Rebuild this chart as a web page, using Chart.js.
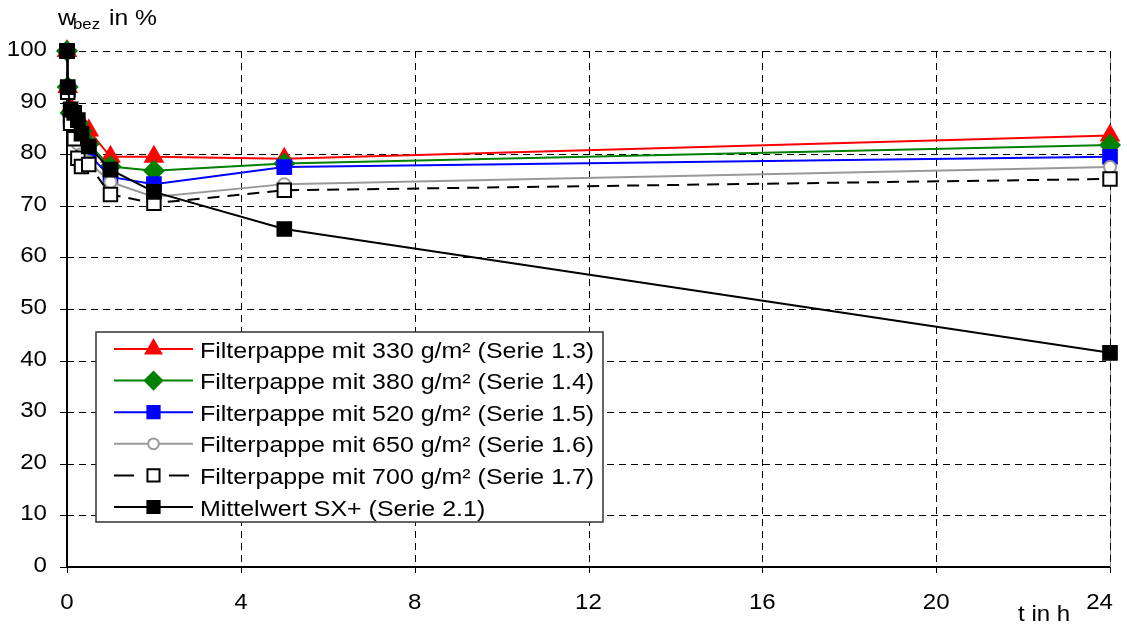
<!DOCTYPE html>
<html>
<head>
<meta charset="utf-8">
<script src="https://cdn.jsdelivr.net/npm/chart.js@4/dist/chart.umd.min.js"></script>
<style>
  html, body { margin: 0; padding: 0; background: #fff; }
  #wrap { width: 1127px; height: 625px; }
</style>
</head>
<body>
<div id="wrap"><canvas id="chart"></canvas></div>
<script>
// time in hours
const hours = [0, 0.017, 0.083, 0.167, 0.25, 0.333, 0.5, 1, 2, 5, 24];

// w_bez in % per series
const serie13 = [100, 93, 89, 88, 87, 86, 84.6, 79.5, 79.5, 79.1, 83.6];
const serie14 = [100, 93, 88, 87, 86, 84.5, 82, 77.6, 76.8, 78.2, 81.8];
const serie15 = [100, 92.5, 87, 86, 85, 83, 80, 75.6, 74.2, 77.5, 79.5];
const serie16 = [100, 92, 86, 84, 82, 80, 78.5, 74.6, 71.7, 74.2, 77.5];
const serie17 = [100, 92, 86, 83, 79.2, 77.6, 78, 72.2, 70.5, 73, 75.2];
const serie21 = [100, 93, 88.7, 88, 86.6, 84, 81.5, 77, 72.7, 65.5, 41.5];

const seriesNames = [
  'Filterpappe mit 330 g/m² (Serie 1.3)',
  'Filterpappe mit 380 g/m² (Serie 1.4)',
  'Filterpappe mit 520 g/m² (Serie 1.5)',
  'Filterpappe mit 650 g/m² (Serie 1.6)',
  'Filterpappe mit 700 g/m² (Serie 1.7)',
  'Mittelwert SX+ (Serie 2.1)',
];

const xTicks = [0, 4, 8, 12, 16, 20, 24];
const yTicks = [0, 10, 20, 30, 40, 50, 60, 70, 80, 90, 100];

const FONT = '"Liberation Sans", Arial, sans-serif';
const SX = 1.12; // the reference text is a bit wider than plain Arial

const toPoints = (values) => values.map((v, i) => ({ x: hours[i], y: v }));

const makeSeries = (label, values, style, order) => ({
  label,
  data: toPoints(values),
  order,
  clip: false,
  tension: 0,
  fill: false,
  borderWidth: 2,
  pointBorderWidth: 1.5,
  ...style,
});

const datasets = [
  makeSeries(seriesNames[0], serie13, {
    borderColor: '#ff0000', pointBackgroundColor: '#ff0000', pointBorderColor: '#ff0000',
    pointStyle: 'triangle', pointRadius: 10.5,
  }, 6),
  makeSeries(seriesNames[1], serie14, {
    borderColor: '#008000', pointBackgroundColor: '#008000', pointBorderColor: '#008000',
    pointStyle: 'rectRot', pointRadius: 10,
  }, 5),
  makeSeries(seriesNames[2], serie15, {
    borderColor: '#0000ff', pointBackgroundColor: '#0000ff', pointBorderColor: '#0000ff',
    pointStyle: 'rect', pointRadius: 10,
  }, 4),
  makeSeries(seriesNames[3], serie16, {
    borderColor: '#999999', pointBackgroundColor: '#ffffff', pointBorderColor: '#999999',
    pointStyle: 'circle', pointRadius: 6, pointBorderWidth: 2,
  }, 3),
  makeSeries(seriesNames[4], serie17, {
    borderColor: '#000000', pointBackgroundColor: '#ffffff', pointBorderColor: '#000000',
    pointStyle: 'rect', pointRadius: 9.5, pointBorderWidth: 2, borderDash: [12, 8],
  }, 2),
  makeSeries(seriesNames[5], serie21, {
    borderColor: '#000000', pointBackgroundColor: '#000000', pointBorderColor: '#000000',
    pointStyle: 'rect', pointRadius: 10,
  }, 1),
];

function stretchedText(ctx, text, x, y, align, size) {
  ctx.save();
  ctx.translate(x, y);
  ctx.scale(SX, 1);
  ctx.font = `${size}px ${FONT}`;
  ctx.textAlign = align;
  ctx.textBaseline = 'alphabetic';
  ctx.fillStyle = '#000';
  ctx.fillText(text, 0, 0);
  ctx.restore();
}

function hLine(ctx, x1, x2, y) {
  ctx.beginPath();
  ctx.moveTo(x1, y);
  ctx.lineTo(x2, y);
  ctx.stroke();
}

function vLine(ctx, x, y1, y2) {
  ctx.beginPath();
  ctx.moveTo(x, y1);
  ctx.lineTo(x, y2);
  ctx.stroke();
}

// excel style grid, axes and tick marks
const gridPlugin = {
  id: 'excelGrid',
  beforeDatasetsDraw(chart) {
    const { ctx, chartArea: a, scales: { x, y } } = chart;
    ctx.save();
    ctx.lineWidth = 1;
    ctx.strokeStyle = '#8c8c8c';
    vLine(ctx, Math.round(a.right) + 0.5, a.top, a.bottom);

    ctx.strokeStyle = '#000';
    ctx.setLineDash([7, 5]);
    yTicks.filter((v) => v > 0).forEach((v) => {
      hLine(ctx, a.left, a.right, Math.round(y.getPixelForValue(v)) + 0.5);
    });
    xTicks.filter((v) => v > 0).forEach((v) => {
      vLine(ctx, Math.round(x.getPixelForValue(v)) + 0.5, a.top, a.bottom);
    });

    ctx.setLineDash([]);
    yTicks.forEach((v) => hLine(ctx, a.left - 7, a.left, Math.round(y.getPixelForValue(v)) + 0.5));
    xTicks.forEach((v) => vLine(ctx, Math.round(x.getPixelForValue(v)) + 0.5, a.bottom, a.bottom + 6));

    ctx.lineWidth = 2;
    vLine(ctx, a.left, a.top, a.bottom + 1);
    hLine(ctx, a.left - 1, a.right, a.bottom);
    ctx.restore();
  },
  afterDraw(chart) {
    const { ctx, chartArea: a, scales: { x, y } } = chart;
    ctx.save();

    yTicks.forEach((v) => {
      stretchedText(ctx, String(v), a.left - 20, y.getPixelForValue(v) + 5, 'right', 21.5);
    });
    xTicks.forEach((v) => {
      ctx.font = `21.5px ${FONT}`;
      const half = (ctx.measureText(String(v)).width * SX) / 2;
      const cx = Math.min(x.getPixelForValue(v), chart.width - 14 - half);
      stretchedText(ctx, String(v), cx, a.bottom + 42, 'center', 21.5);
    });

    // axis titles
    stretchedText(ctx, 'w', 58, 25, 'left', 22);
    stretchedText(ctx, 'bez', 73, 29, 'left', 15);
    stretchedText(ctx, 'in %', 109, 25, 'left', 22);
    stretchedText(ctx, 't in h', 1018, 621, 'left', 21.5);

    // legend
    const box = { left: a.left + 29, top: 332, width: 507, height: 190 };
    ctx.fillStyle = '#fff';
    ctx.fillRect(box.left, box.top, box.width, box.height);
    ctx.strokeStyle = '#333';
    ctx.lineWidth = 1.5;
    ctx.strokeRect(box.left, box.top, box.width, box.height);

    chart.data.datasets.forEach((ds, i) => {
      const cy = box.top + 17 + i * 31.6;
      const x1 = box.left + 18;
      const x2 = box.left + 97;
      const mx = (x1 + x2) / 2;
      ctx.strokeStyle = ds.borderColor;
      ctx.lineWidth = ds.borderWidth;
      ctx.setLineDash(ds.borderDash ? [20, 35] : []);
      hLine(ctx, x1, x2, cy);
      ctx.setLineDash([]);
      ctx.fillStyle = ds.pointBackgroundColor;
      ctx.strokeStyle = ds.pointBorderColor;
      ctx.lineWidth = ds.pointBorderWidth;
      Chart.helpers.drawPoint(ctx, {
        pointStyle: ds.pointStyle, radius: ds.pointRadius * 0.9, rotation: 0, borderWidth: ds.pointBorderWidth,
      }, mx, cy);
      stretchedText(ctx, ds.label, box.left + 104, cy + 8.5, 'left', 22.3);
    });
    ctx.restore();
  },
};

new Chart(document.getElementById('chart'), {
  type: 'line',
  data: { datasets },
  options: {
    responsive: true,
    maintainAspectRatio: false,
    animation: false,
    layout: { padding: { top: 51, right: 17, left: 0, bottom: 0 } },
    plugins: {
      legend: { display: false },
      tooltip: { enabled: false },
    },
    scales: {
      x: {
        type: 'linear',
        min: 0,
        max: 24,
        ticks: { stepSize: 4, display: false },
        grid: { display: false },
        border: { display: false },
        afterFit: (scale) => { scale.height = 58; },
      },
      y: {
        min: 0,
        max: 100,
        ticks: { stepSize: 10, display: false },
        grid: { display: false },
        border: { display: false },
        afterFit: (scale) => { scale.width = 67; },
      },
    },
  },
  plugins: [gridPlugin],
});
</script>
</body>
</html>
